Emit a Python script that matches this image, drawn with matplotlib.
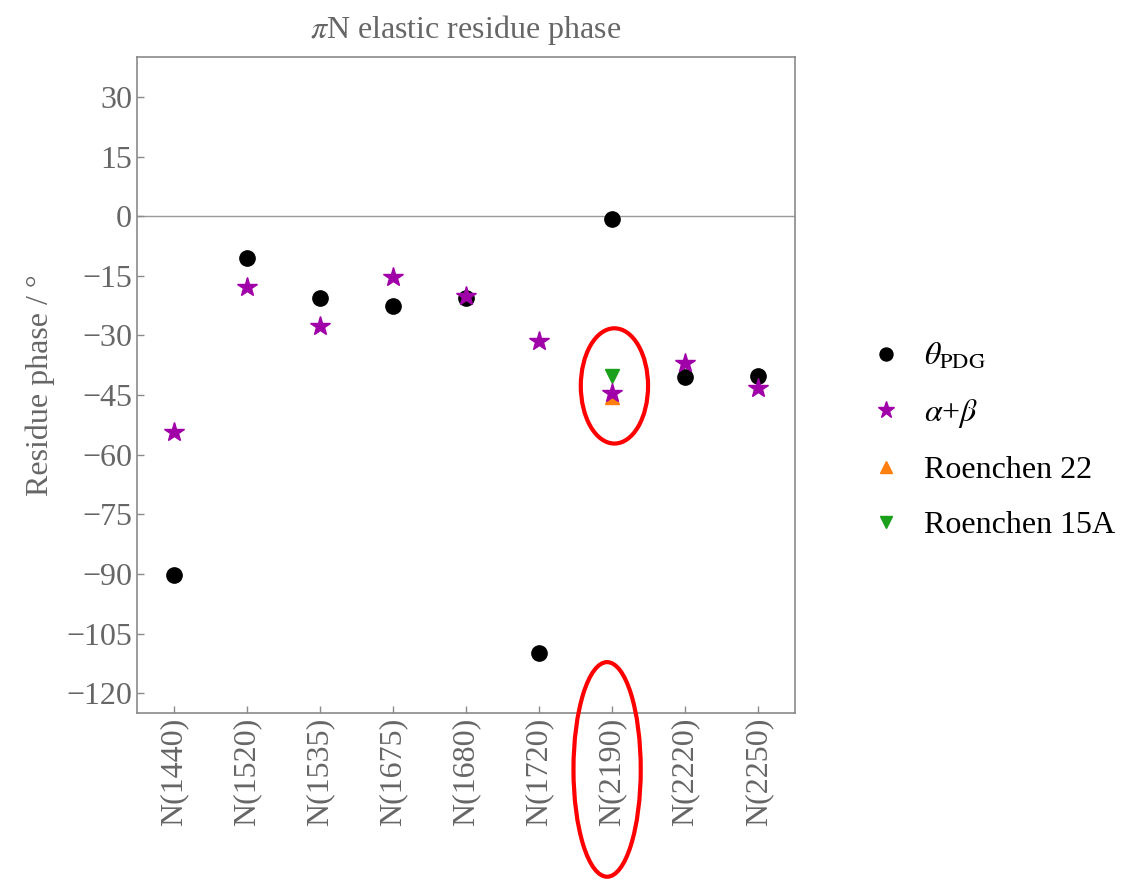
import matplotlib.pyplot as plt
from matplotlib.patches import Ellipse

plt.rcParams['font.family'] = ['Liberation Serif', 'DejaVu Serif']
plt.rcParams['mathtext.fontset'] = 'stix'

resonances = ["N(1440)", "N(1520)", "N(1535)", "N(1675)", "N(1680)",
              "N(1720)", "N(2190)", "N(2220)", "N(2250)"]
theta_pdg = [-90.3, -10.5, -20.5, -22.6, -20.5, -110.0, -0.7, -40.5, -40.3]
alpha_beta = [-54.3, -17.8, -27.6, -15.3, -20.0, -31.5, -44.5, -37.0, -43.3]
roenchen22_x = ["N(2190)"]
roenchen22 = [-45.6]
roenchen15a_x = ["N(2190)"]
roenchen15a = [-40.3]
yticks = [30, 15, 0, -15, -30, -45, -60, -75, -90, -105, -120]

txt = "#666666"
spine = "#8a8a8a"

fig = plt.figure(figsize=(11.24, 8.81), dpi=100)
ax = fig.add_axes([0.1219, 0.1907, 0.5854, 0.7443])

xpos = {r: i for i, r in enumerate(resonances)}
x = list(range(len(resonances)))

ax.axhline(0, color="#999999", lw=1.0, zorder=1)

ax.plot(x, theta_pdg, 'o', color='black', ms=11, ls='none', zorder=3,
        label=r"$\theta_{\mathrm{PDG}}$")
ax.plot(x, alpha_beta, '*', color='#a000a8', ms=15, ls='none', zorder=4,
        label=r"$\alpha$+$\beta$")
ax.plot([xpos[r] for r in roenchen22_x], roenchen22, '^', color='#ff7f0e',
        ms=10, ls='none', zorder=3, label="Roenchen 22")
ax.plot([xpos[r] for r in roenchen15a_x], roenchen15a, 'v', color='#1aa01a',
        ms=10, ls='none', zorder=3, label="Roenchen 15A")

ax.set_xlim(-0.5, 8.5)
ax.set_ylim(-125, 40)
ax.set_xticks(x)
ax.set_xticklabels(resonances, rotation=90)
ax.set_yticks(yticks)
ax.set_yticklabels([str(v).replace('-', '\u2212') for v in yticks])

ax.tick_params(direction='in', length=5, width=1, color=spine,
               labelcolor=txt, labelsize=23, top=False, right=False)
for s in ax.spines.values():
    s.set_color(spine)
    s.set_linewidth(1.2)

ax.set_ylabel("Residue phase / °", color=txt, fontsize=23, labelpad=8)
ax.set_title(r"$\pi$N elastic residue phase", color=txt, fontsize=23, pad=14)

# red highlight ellipses around N(2190)
ax.add_patch(Ellipse((6.03, -42.7), 0.92, 29, fill=False, ec='red', lw=3,
                     clip_on=False, zorder=5))
ax.add_patch(Ellipse((5.93, -139.2), 0.92, 54, fill=False, ec='red', lw=3,
                     clip_on=False, zorder=5))

leg = ax.legend(loc='center left', bbox_to_anchor=(1.065, 0.415), frameon=False,
                fontsize=23, markerscale=0.85, handletextpad=0.6,
                labelspacing=0.8, handlelength=1.2)

fig.savefig("out.png", dpi=100)
